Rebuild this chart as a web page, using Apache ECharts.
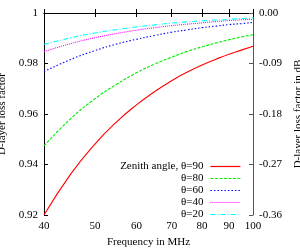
<!DOCTYPE html>
<html>
<head>
<meta charset="utf-8">
<script src="https://cdn.jsdelivr.net/npm/echarts@6/dist/echarts.min.js"></script>
<style>html,body{margin:0;padding:0;background:#fff}#c{width:300px;height:250px}</style>
</head>
<body>
<div id="c"></div>
<script>
const freqs = [40, 45, 50, 55, 60, 65, 70, 75, 80, 85, 90, 95, 100];
const xTicks = [40, 50, 60, 70, 80, 90, 100];
const seriesNames = ['Zenith angle, θ=90', 'θ=80', 'θ=60', 'θ=40', 'θ=20'];
const theta90 = [0.9200, 0.9363, 0.9481, 0.9569, 0.9636, 0.9689, 0.9732, 0.9766, 0.9794, 0.9817, 0.9837, 0.9853, 0.9868];
const theta80 = [0.9474, 0.9582, 0.9660, 0.9718, 0.9763, 0.9798, 0.9825, 0.9848, 0.9866, 0.9881, 0.9894, 0.9905, 0.9914];
const theta60 = [0.9768, 0.9816, 0.9851, 0.9877, 0.9896, 0.9911, 0.9924, 0.9933, 0.9942, 0.9948, 0.9954, 0.9958, 0.9963];
const theta40 = [0.9847, 0.9879, 0.9902, 0.9919, 0.9932, 0.9942, 0.9950, 0.9956, 0.9961, 0.9966, 0.9970, 0.9973, 0.9975];
const theta20 = [0.9876, 0.9902, 0.9921, 0.9934, 0.9945, 0.9953, 0.9960, 0.9965, 0.9969, 0.9972, 0.9975, 0.9978, 0.9980];
const leftTicks = [0.92, 0.94, 0.96, 0.98, 1];
const rightTicks = [-0.36, -0.27, -0.18, -0.09, 0.00];

const allValues = [theta90, theta80, theta60, theta40, theta20];
const colors = ['#ff0000', '#00ee00', '#0000ff', '#ff00ff', '#00ffff'];
const dashes = ['solid', [3, 1.5], [1.5, 2], [1, 1], [5, 2, 1, 2]];

const font = 'Liberation Serif';
const chart = echarts.init(document.getElementById('c'), null, {renderer: 'canvas'});

const series = seriesNames.map((n, i) => ({
  name: n,
  type: 'line',
  xAxisIndex: 0,
  yAxisIndex: 0,
  symbol: 'none',
  smooth: true,
  data: freqs.map((f, j) => [f, allValues[i][j]]),
  lineStyle: {color: colors[i], width: 1.1, type: dashes[i]},
  itemStyle: {color: colors[i]}
}));

const axisLine = {show: true, lineStyle: {color: '#000', width: 1}};
chart.setOption({
  animation: false,
  backgroundColor: '#fff',
  textStyle: {fontFamily: font},
  grid: {left: 44, right: 47, top: 13, bottom: 35, containLabel: false, outerBoundsMode: 'none'},
  xAxis: [{
    type: 'log', min: 40, max: 100, position: 'bottom',
    name: 'Frequency in MHz', nameLocation: 'middle', nameGap: 22,
    nameTextStyle: {fontFamily: font, fontSize: 11, color: '#000'},
    axisLine: axisLine,
    axisTick: {show: true, inside: true, length: 4, customValues: xTicks, lineStyle: {color: '#000'}},
    axisLabel: {customValues: xTicks, fontFamily: font, fontSize: 11, color: '#000', margin: 6, showMinLabel: true, showMaxLabel: true},
    minorTick: {show: false},
    splitLine: {show: false}
  }, {
    type: 'log', min: 40, max: 100, position: 'top',
    axisLine: axisLine,
    axisTick: {show: true, inside: true, length: 4, customValues: xTicks, lineStyle: {color: '#000'}},
    axisLabel: {show: false},
    splitLine: {show: false}
  }],
  yAxis: [{
    type: 'value', min: 0.92, max: 1, interval: 0.02, position: 'left',
    name: 'D-layer loss factor', nameLocation: 'middle', nameGap: 24, nameRotate: 90,
    nameTextStyle: {fontFamily: font, fontSize: 11, color: '#000'},
    axisLine: axisLine,
    axisTick: {show: true, inside: true, length: 4, lineStyle: {color: '#000'}},
    axisLabel: {fontFamily: font, fontSize: 11, color: '#000', margin: 6,
      formatter: v => String(Math.round(v * 100) / 100)},
    splitLine: {show: false}
  }, {
    type: 'value', min: -0.36, max: 0, interval: 0.09, position: 'right',
    name: 'D-layer loss factor in dB', nameLocation: 'middle', nameGap: 31, nameRotate: 90,
    nameTextStyle: {fontFamily: font, fontSize: 11, color: '#000'},
    axisLine: {show: true, lineStyle: {color: '#555', width: 1}},
    axisTick: {show: true, inside: true, length: 4, lineStyle: {color: '#555'}},
    axisLabel: {fontFamily: font, fontSize: 11, color: '#000', margin: 6,
      formatter: v => v.toFixed(2)},
    splitLine: {show: false}
  }],
  legend: {
    orient: 'vertical', align: 'right', right: 59, top: 161, padding: 0,
    itemWidth: 30, itemHeight: 9, itemGap: 1,
    data: seriesNames.map((n, i) => ({
      name: n,
      itemStyle: {opacity: 0},
      lineStyle: {color: colors[i], type: dashes[i], width: 1.2}
    })),
    textStyle: {fontFamily: font, fontSize: 11, color: '#000', lineHeight: 9, padding: [0, 2, 0, 0]}
  },
  series: series
});
</script>
</body>
</html>
